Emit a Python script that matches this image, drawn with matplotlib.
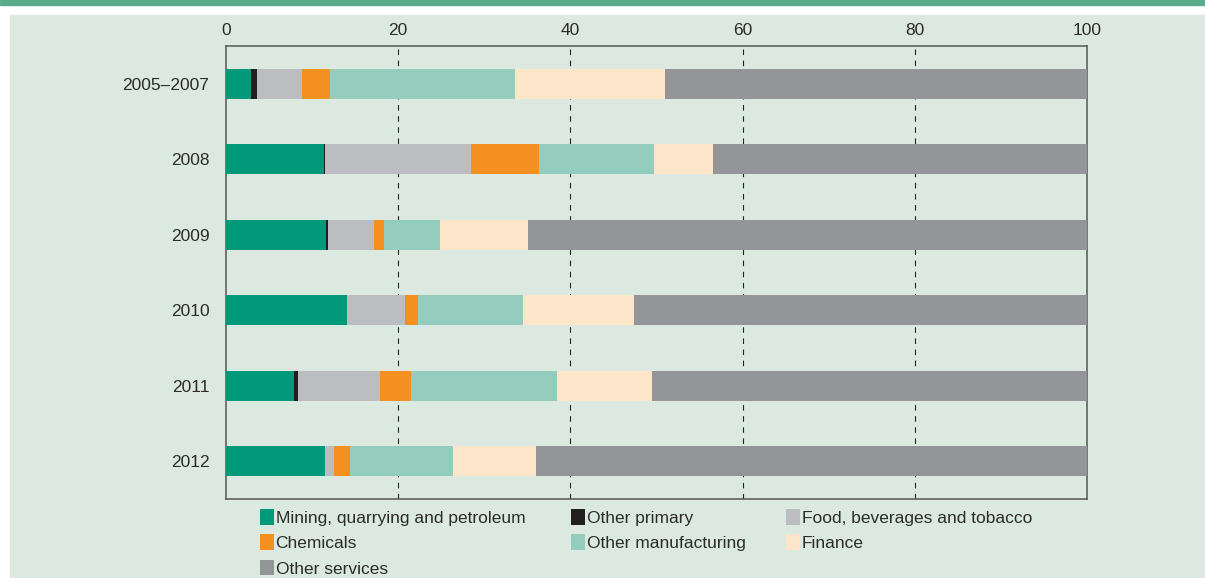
import matplotlib
matplotlib.use('Agg')
import matplotlib.pyplot as plt
from matplotlib.patches import Rectangle, Patch
import numpy as np

plt.rcParams['font.family'] = ['Liberation Sans', 'DejaVu Sans']

years = ['2005\u20132007', '2008', '2009', '2010', '2011', '2012']
sectors = ['Mining, quarrying and petroleum', 'Other primary',
           'Food, beverages and tobacco', 'Chemicals',
           'Other manufacturing', 'Finance', 'Other services']

mining = [2.9, 11.4, 11.6, 14.0, 7.95, 11.55]
other_primary = [0.7, 0.1, 0.3, 0.1, 0.4, 0.0]
food = [5.2, 17.0, 5.3, 6.65, 9.5, 0.95]
chemicals = [3.25, 7.8, 1.2, 1.55, 3.65, 1.9]
other_manuf = [21.55, 13.4, 6.4, 12.2, 16.9, 12.0]
finance = [17.4, 6.9, 10.3, 12.9, 11.1, 9.6]
other_services = [49.0, 43.4, 64.9, 52.6, 50.5, 64.0]

colors = ['#009a7a', '#231f20', '#bcbdc0', '#f39020', '#94ccbe', '#fde5c9', '#939598']
bg = '#dce9e1'
txt = '#2b2b2b'

fig = plt.figure(figsize=(12.05, 5.78), dpi=100)
# top rule and shaded panel
fig.patches.append(Rectangle((0, 1 - 5/578), 1, 5/578, transform=fig.transFigure,
                             color='#5aab8c', zorder=-10))
fig.patches.append(Rectangle((10/1205, 0), 1, 1 - 15/578, transform=fig.transFigure,
                             color=bg, zorder=-10))

ax = fig.add_axes([226/1205, 1 - 499/578, (1087 - 226)/1205, (499 - 46)/578])
ax.set_facecolor(bg)

series = [mining, other_primary, food, chemicals, other_manuf, finance, other_services]
y = np.arange(len(years))
left = np.zeros(len(years))
handles = []
for name, vals, c in zip(sectors, series, colors):
    vals = np.array(vals)
    ax.barh(y, vals, left=left, height=0.4, color=c, zorder=3)
    left += vals
    handles.append(Patch(facecolor=c, label=name))

ax.set_xlim(0, 100)
ax.set_ylim(len(years) - 0.5, -0.5)
ax.set_yticks(y)
ax.set_yticklabels(years)
ax.set_xticks([0, 20, 40, 60, 80, 100])
ax.xaxis.tick_top()
ax.tick_params(axis='x', length=0, labelsize=12.5, pad=6, labelcolor=txt)
ax.tick_params(axis='y', length=0, labelsize=12.5, pad=12, labelcolor=txt)
for s in ax.spines.values():
    s.set_color('#555555')
    s.set_linewidth(1.1)
for xv in [20, 40, 60, 80]:
    ax.axvline(xv, color='#222222', linestyle=(0, (5, 5)), linewidth=0.8, zorder=1)

# legend in three columns, row order as in the source
cols = [[handles[0], handles[3], handles[6]],
        [handles[1], handles[4]],
        [handles[2], handles[5]]]
xs = [260/1205, 571/1205, 786/1205]
for hs, xl in zip(cols, xs):
    leg = fig.legend(handles=hs, loc='upper left', bbox_to_anchor=(xl, 1 - 509/578),
                     frameon=False, fontsize=12.5, handlelength=0.8, handleheight=1.0,
                     handletextpad=0.1, labelspacing=0.5, borderaxespad=0,
                     borderpad=0, labelcolor=txt)

fig.savefig('out.png', dpi=100, facecolor='white')
